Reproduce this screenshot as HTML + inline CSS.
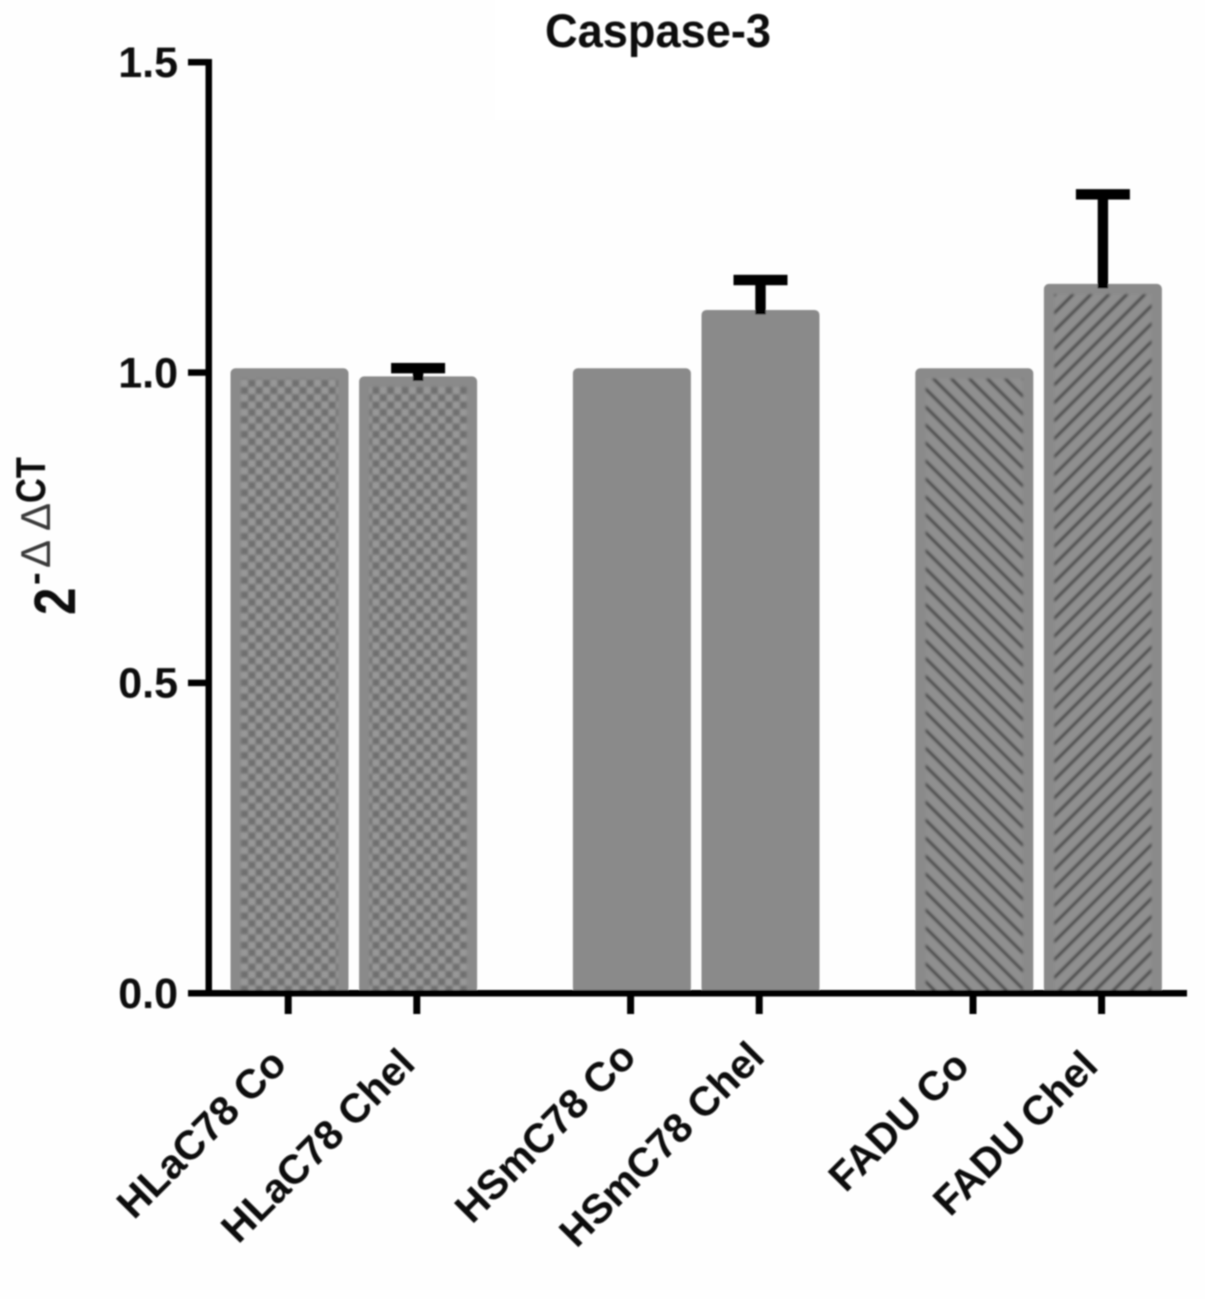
<!DOCTYPE html>
<html>
<head>
<meta charset="utf-8">
<title>Caspase-3</title>
<style>
html,body{margin:0;padding:0;background:#fefefe;}
svg{display:block;}
text{font-family:"Liberation Sans",sans-serif;font-weight:bold;fill:#0c0c0c;}
</style>
</head>
<body>
<svg id="chart" xmlns="http://www.w3.org/2000/svg" width="1205" height="1299" viewBox="0 0 1205 1299">
  <defs>
    <filter id="soft" x="-2%" y="-2%" width="104%" height="104%"><feGaussianBlur stdDeviation="0.8"/></filter>
    <filter id="softer" x="-2%" y="-2%" width="104%" height="104%"><feGaussianBlur stdDeviation="1"/></filter>
    <pattern id="checker" patternUnits="userSpaceOnUse" width="14.6" height="14.6">
      <rect width="14.6" height="14.6" fill="#989898"/>
      <rect width="7.3" height="7.3" fill="#707070"/>
      <rect x="7.3" y="7.3" width="7.3" height="7.3" fill="#707070"/>
    </pattern>
    <pattern id="hatch-down" patternUnits="userSpaceOnUse" width="12.7" height="12.7" patternTransform="translate(927,873) rotate(45)">
      <rect width="12.7" height="12.7" fill="#8f8f8f"/>
      <rect y="0" width="12.7" height="3" fill="#424242"/>
    </pattern>
    <pattern id="hatch-up" patternUnits="userSpaceOnUse" width="12.7" height="12.7" patternTransform="translate(1055,885) rotate(-45)">
      <rect width="12.7" height="12.7" fill="#8f8f8f"/>
      <rect y="0" width="12.7" height="3" fill="#424242"/>
    </pattern>
  </defs>
  <rect x="495" y="0" width="355" height="120" fill="#ffffff"/>
  <g id="plot" filter="url(#soft)">
    <text x="658" y="47" text-anchor="middle" font-size="47" textLength="226" lengthAdjust="spacingAndGlyphs">Caspase-3</text>
    <g>
      <text transform="translate(75,615) rotate(-90) scale(0.85,1)" font-size="58">2</text>
      <text transform="translate(47,585) rotate(-90)" font-size="38">-</text>
      <text transform="translate(50,568) rotate(-90)" font-size="42" style="font-weight:normal;fill:#3a3a3a">Δ</text>
      <text transform="translate(50,531) rotate(-90)" font-size="42" style="font-weight:normal;fill:#3a3a3a">Δ</text>
      <text transform="translate(45,503) rotate(-90) scale(0.82,1)" font-size="42">CT</text>
    </g>
  </g>
</svg>
<script>
var categories = ["HLaC78 Co", "HLaC78 Chel", "HSmC78 Co", "HSmC78 Chel", "FADU Co", "FADU Chel"];
var values = [1.0, 0.987, 1.0, 1.094, 1.0, 1.136];
var errorTops = [null, 1.007, null, 1.149, null, 1.287];
var fillKinds = ["checker", "checker", "solid", "solid", "hatch-down", "hatch-up"];
var yTicks = [0, 0.5, 1.0, 1.5];
var yTickLabels = ["0.0", "0.5", "1.0", "1.5"];

var SVGNS = "http://www.w3.org/2000/svg";
var plot = document.getElementById("plot");

function yScale(v) { return 993 - v * 620.7; }
function xScale(i) { return 289.5 + i * 128.6 + Math.floor(i / 2) * 85.2; }
function labelShift(i) {
  var group = Math.floor(i / 2);
  if (group === 1) { return 9; }
  if (group === 0) { return 2; }
  return 0;
}

function make(tag, attrs) {
  var el = document.createElementNS(SVGNS, tag);
  for (var k in attrs) { el.setAttribute(k, attrs[k]); }
  return el;
}

var barWidth = 118;
var inset = 10.5;

categories.forEach(function (name, i) {
  var cx = xScale(i);
  var top = yScale(values[i]) - 4;
  var base = yScale(0);

  var bar = make("rect", { x: cx - barWidth / 2, y: top, width: barWidth, height: base - top, rx: 5, fill: "#8a8a8a" });
  
  
  plot.appendChild(bar);

  if (fillKinds[i] !== "solid") {
    var inner = make("rect", { x: cx - barWidth / 2 + inset, y: top + inset, width: barWidth - 2 * inset, height: base - top - inset - 2, fill: "url(#" + fillKinds[i] + ")", filter: "url(#softer)" });
    
    
    plot.appendChild(inner);
  }

  if (errorTops[i] !== null) {
    var stem = make("rect", { x: cx - 5.2, y: yScale(errorTops[i]), width: 10.4, height: yScale(values[i]) - yScale(errorTops[i]) + 0.5, fill: "#000" });
    
    
    plot.appendChild(stem);

    var cap = make("rect", { x: cx - 27, y: yScale(errorTops[i]) - 5, width: 54, height: 10.4, fill: "#000" });
    
    
    plot.appendChild(cap);
  }

  var tick = make("rect", { x: cx - 1.3 - 3.5, y: 993, width: 7, height: 21, fill: "#000" });
  
  
  plot.appendChild(tick);

  var lx = cx - 3 + labelShift(i);
  var ly = 1068 - labelShift(i);
  var label = make("text", { transform: "translate(" + lx + "," + ly + ") rotate(-45)", "text-anchor": "end", "font-size": 41 });
  
  
  label.textContent = name;
  plot.appendChild(label);
});

var yAxis = make("rect", { x: 205.5, y: 59, width: 6.5, height: 937, fill: "#000" });


plot.appendChild(yAxis);

var xAxis = make("rect", { x: 188, y: 990, width: 999, height: 6.5, fill: "#000" });


plot.appendChild(xAxis);

yTicks.forEach(function (t, i) {
  var y = yScale(t);
  var tick = make("rect", { x: 188, y: y - 3, width: 20, height: 6.5, fill: "#000" });
  
  
  plot.appendChild(tick);

  var label = make("text", { x: 178, y: y + 15, "text-anchor": "end", "font-size": 43 });
  
  
  label.textContent = yTickLabels[i];
  plot.appendChild(label);
});
</script>
</body>
</html>
